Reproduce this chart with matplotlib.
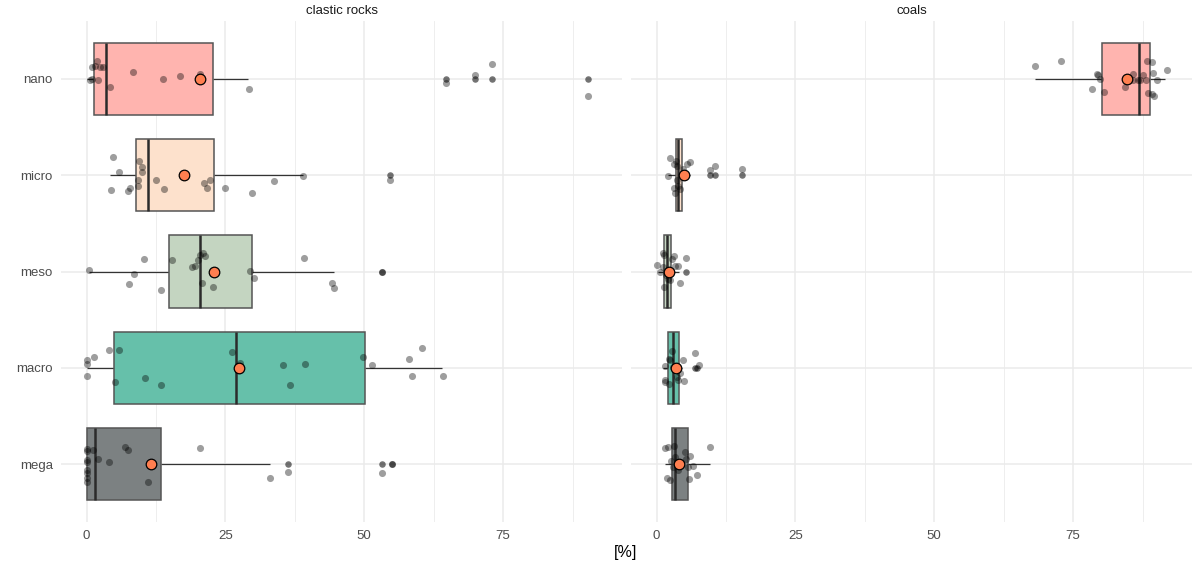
import matplotlib

matplotlib.use("Agg")
import matplotlib.pyplot as plt

plt.rcParams["font.family"] = ["Liberation Sans", "DejaVu Sans"]

size_classes = ["nano", "micro", "meso", "macro", "mega"]
box_fills = ["#FFB4AF", "#FDE1CC", "#C4D5C1", "#66C0AA", "#7C8182"]
panel_titles = ["clastic rocks", "coals"]

# clastic rocks: box statistics per size class
clastic_q1 = [1.4, 8.9, 14.9, 5.0, 0.1]
clastic_median = [3.5, 11.1, 20.5, 26.9, 1.6]
clastic_q3 = [22.7, 23.0, 29.8, 50.2, 13.4]
clastic_whislo = [0.0, 4.3, 0.5, 0.1, 0.0]
clastic_whishi = [29.1, 39.0, 44.5, 64.0, 33.0]
clastic_mean = [20.4, 17.5, 23.0, 27.4, 11.6]
clastic_outliers = [
    [64.7, 70.0, 73.0, 90.2],
    [54.6],
    [53.1],
    [],
    [36.3, 53.2, 55.0],
]
clastic_points = [
    [1.9, 1.0, 1.5, 2.4, 3.0, 8.3, 1.0, 0.6, 2.0, 4.2, 13.8, 16.8, 20.4, 29.2,
     64.7, 70.0, 73.0, 90.2],
    [4.8, 5.9, 4.4, 7.4, 7.8, 9.4, 9.9, 9.9, 9.2, 9.2, 12.5, 14.0, 21.1, 21.7,
     22.3, 24.9, 29.7, 33.8, 39.0, 54.6],
    [0.5, 10.4, 8.5, 7.6, 13.4, 15.3, 18.9, 19.5, 20.0, 20.5, 20.9, 21.3, 20.8,
     22.7, 29.5, 30.2, 39.2, 44.1, 44.6, 53.1],
    [0.1, 0.1, 0.1, 1.4, 4.0, 5.9, 5.2, 10.6, 13.4, 26.2, 27.7, 35.4, 39.4, 36.7,
     49.7, 51.4, 58.1, 60.4, 58.6, 64.1],
    [0.1, 0.1, 0.1, 0.1, 0.1, 0.1, 0.1, 0.1, 1.1, 2.0, 4.1, 6.9, 7.5, 11.0, 20.4,
     33.1, 36.3, 53.2, 55.0],
]
clastic_jitter = [
    [0.19, 0.12, 0.13, 0.12, 0.12, 0.07, 0.0, -0.01, -0.01, -0.08, 0.0, 0.03,
     0.05, -0.11, -0.04, 0.04, 0.15, -0.18],
    [0.19, 0.035, -0.15, -0.16, -0.13, 0.15, 0.08, 0.03, -0.05, -0.11, -0.05,
     -0.14, -0.08, -0.13, -0.05, -0.13, -0.19, -0.06, -0.01, -0.05],
    [0.02, 0.13, -0.03, -0.13, -0.19, 0.12, 0.05, 0.06, 0.12, 0.17, 0.19, 0.16,
     -0.12, -0.16, 0.01, -0.07, 0.14, -0.12, -0.17, 0.0],
    [0.08, 0.04, -0.08, 0.11, 0.19, 0.19, -0.15, -0.11, -0.18, 0.16, 0.05, 0.03,
     0.04, -0.18, 0.11, 0.03, 0.09, 0.21, -0.08, -0.08],
    [0.16, 0.14, 0.045, 0.024, -0.06, -0.09, -0.14, -0.18, 0.15, 0.05, 0.02,
     0.18, 0.15, -0.18, 0.17, -0.14, -0.08, -0.09, 0.0],
]

# coals: box statistics per size class
coal_q1 = [80.2, 3.5, 1.4, 2.1, 2.8]
coal_median = [86.8, 3.8, 1.9, 2.9, 3.4]
coal_q3 = [88.8, 4.6, 2.6, 4.1, 5.7]
coal_whislo = [68.1, 2.0, 0.2, 1.1, 1.5]
coal_whishi = [91.6, 6.1, 4.1, 4.6, 9.6]
coal_mean = [84.6, 5.0, 2.2, 3.5, 4.1]
coal_outliers = [
    [],
    [9.6, 10.6, 15.4],
    [5.3],
    [6.9, 7.3],
    [],
]
coal_points = [
    [68.1, 72.8, 79.3, 79.4, 78.3, 79.9, 80.5, 84.4, 85.7, 85.8, 86.6, 87.0, 87.5,
     88.1, 88.2, 89.2, 89.4, 90.1, 88.4, 89.2, 89.5, 91.8],
    [2.1, 2.5, 3.1, 3.5, 3.6, 3.6, 3.2, 3.3, 3.9, 4.3, 5.4, 6.1, 4.7, 9.6, 10.6,
     15.4],
    [1.1, 1.3, 3.2, 2.8, 0.1, 1.1, 3.3, 3.9, 5.3, 0.6, 1.7, 2.5, 4.2, 1.4, 2.1],
    [1.6, 2.8, 2.2, 2.4, 4.8, 7.0, 7.6, 1.6, 1.6, 2.2, 3.7, 4.2, 4.9, 3.9, 3.0],
    [9.7, 1.6, 2.0, 3.2, 5.2, 6.1, 2.6, 3.3, 5.3, 6.6, 5.7, 3.8, 1.8, 2.5, 5.9,
     7.2, 3.0],
]
coal_jitter = [
    [0.13, 0.19, 0.05, 0.04, -0.11, 0.0, -0.14, -0.08, 0.05, -0.01, -0.01, -0.01,
     0.04, -0.01, 0.19, 0.17, 0.06, -0.01, -0.15, -0.16, -0.18, 0.09],
    [-0.01, 0.18, 0.12, 0.15, 0.09, -0.05, -0.13, -0.19, -0.11, -0.14, 0.12, 0.14,
     0.06, 0.05, 0.10, 0.06],
    [0.19, 0.17, 0.16, 0.13, 0.07, 0.05, 0.06, 0.06, 0.14, 0.0, -0.04, -0.09,
     -0.12, -0.16, -0.08],
    [0.02, 0.18, 0.09, 0.08, 0.08, 0.15, 0.03, -0.13, -0.15, -0.17, -0.10, -0.05,
     -0.14, -0.13, 0.01],
    [0.18, 0.17, 0.18, 0.19, 0.13, 0.09, 0.03, 0.07, 0.05, -0.02, -0.03, -0.06,
     -0.14, -0.16, -0.15, -0.11, -0.03],
]

panels = [
    (clastic_q1, clastic_median, clastic_q3, clastic_whislo, clastic_whishi,
     clastic_mean, clastic_outliers, clastic_points, clastic_jitter),
    (coal_q1, coal_median, coal_q3, coal_whislo, coal_whishi,
     coal_mean, coal_outliers, coal_points, coal_jitter),
]

W, H = 1198, 563
fig = plt.figure(figsize=(W / 100, H / 100), dpi=100)
panel_boxes = [(61, 622), (631, 1192)]
top, bottom = 21, 522
grid_color = "#EBEBEB"
y = list(range(len(size_classes)))

for index, ((x0, x1), stats) in enumerate(zip(panel_boxes, panels)):
    q1, med, q3, lo, hi, mean, outliers, points, jitter = stats
    axis = fig.add_axes([x0 / W, 1 - bottom / H, (x1 - x0) / W, (bottom - top) / H])
    axis.set_xlim(-4.59, 96.39)
    axis.set_ylim(len(size_classes) - 0.4, -0.6)
    for spine in axis.spines.values():
        spine.set_visible(False)
    for value in [12.5, 37.5, 62.5, 87.5]:
        axis.axvline(value, color=grid_color, linewidth=0.6, zorder=0)
    for value in [0, 25, 50, 75]:
        axis.axvline(value, color=grid_color, linewidth=1.1, zorder=0)
    for value in y:
        axis.axhline(value, color=grid_color, linewidth=1.1, zorder=0)

    axis.hlines(y, lo, q1, color="#333333", linewidth=0.9, zorder=2)
    axis.hlines(y, q3, hi, color="#333333", linewidth=0.9, zorder=2)
    axis.barh(
        y,
        [b - a for a, b in zip(q1, q3)],
        height=0.75,
        left=q1,
        color=box_fills,
        edgecolor="#555555",
        linewidth=1.1,
        zorder=2,
    )
    axis.vlines(med, [v - 0.375 for v in y], [v + 0.375 for v in y],
                color="#2B2B2B", linewidth=1.8, zorder=3)
    for row, values in enumerate(outliers):
        axis.scatter(values, [row] * len(values), s=22, color="black",
                     alpha=0.55, linewidths=0, zorder=4)
    for row, (values, offsets) in enumerate(zip(points, jitter)):
        axis.scatter(values, [row - o for o in offsets], s=26, color="black",
                     alpha=0.38, linewidths=0, zorder=4)
    axis.scatter(mean, y, s=58, color="#FF7F50", edgecolors="black",
                 linewidths=0.9, zorder=5)

    axis.set_xticks([0, 25, 50, 75])
    axis.tick_params(length=0, labelsize=9.5, labelcolor="#4D4D4D", pad=6)
    axis.set_yticks(y)
    if index == 0:
        axis.set_yticklabels(size_classes)
    else:
        axis.set_yticklabels([])
    fig.text((x0 + x1) / 2 / W, 1 - 11 / H, panel_titles[index], ha="center",
             va="center", fontsize=9.5, color="#1A1A1A")

fig.text(626 / W, 1 - 552 / H, "[%]", ha="center", va="center", fontsize=11.5,
         color="black")
fig.savefig("out.png", dpi=100)
